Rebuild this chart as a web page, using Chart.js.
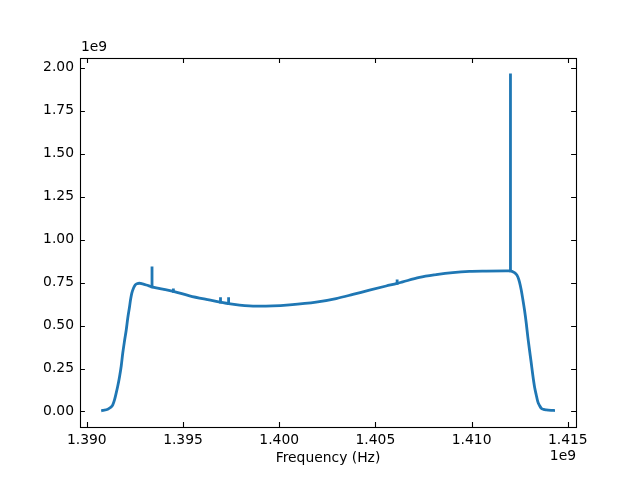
<!DOCTYPE html>
<html>
<head>
<meta charset="utf-8">
<script src="https://cdn.jsdelivr.net/npm/chart.js@4/dist/chart.umd.min.js"></script>
<style>
  html, body { margin: 0; padding: 0; background: #fff; }
  #wrap { width: 640px; height: 480px; position: relative; }
</style>
</head>
<body>
<div id="wrap"><canvas id="c" width="640" height="480"></canvas></div>
<script>
// ---- data ----
// smooth bandpass profile
const frequencyHz = [
  1.39082e9, 1.39109e9, 1.39123e9, 1.39135e9, 1.39144e9, 1.39153e9, 1.39161e9, 1.39170e9,
  1.39179e9, 1.39187e9, 1.39196e9, 1.39205e9, 1.39213e9, 1.39222e9, 1.39228e9, 1.39234e9,
  1.39243e9, 1.39252e9, 1.39261e9, 1.39274e9, 1.39290e9, 1.39309e9, 1.39343e9,
  1.39400e9, 1.39450e9, 1.39534e9, 1.39621e9, 1.39695e9, 1.39737e9, 1.39794e9, 1.39880e9,
  1.39967e9, 1.40054e9, 1.40192e9, 1.40296e9, 1.40383e9, 1.40469e9, 1.40556e9, 1.40613e9,
  1.40642e9, 1.40729e9, 1.40816e9, 1.40902e9, 1.40989e9, 1.41076e9, 1.41180e9, 1.41202e9,
  1.41214e9, 1.41228e9, 1.41240e9, 1.41249e9, 1.41258e9, 1.41266e9,
  1.41275e9, 1.41284e9, 1.41292e9, 1.41301e9, 1.41310e9, 1.41318e9, 1.41327e9, 1.41336e9,
  1.41344e9, 1.41353e9, 1.41362e9, 1.41374e9, 1.41388e9, 1.41426e9
];
const powerValues = [
  0.006e9, 0.013e9, 0.023e9, 0.038e9, 0.067e9, 0.108e9, 0.148e9, 0.201e9,
  0.265e9, 0.340e9, 0.410e9, 0.474e9, 0.544e9, 0.608e9, 0.654e9, 0.689e9,
  0.718e9, 0.736e9, 0.743e9, 0.746e9, 0.742e9, 0.736e9, 0.724e9,
  0.710e9, 0.699e9, 0.673e9, 0.652e9, 0.636e9, 0.627e9, 0.619e9, 0.613e9,
  0.614e9, 0.620e9, 0.636e9, 0.657e9, 0.681e9, 0.706e9, 0.730e9, 0.745e9,
  0.754e9, 0.780e9, 0.796e9, 0.808e9, 0.815e9, 0.817e9, 0.818e9, 0.818e9,
  0.813e9, 0.803e9, 0.784e9, 0.753e9, 0.707e9, 0.654e9,
  0.590e9, 0.515e9, 0.435e9, 0.358e9, 0.282e9, 0.212e9, 0.144e9, 0.096e9,
  0.057e9, 0.035e9, 0.019e9, 0.012e9, 0.009e9, 0.006e9
];
// narrow RFI spikes
const spikeFreqHz = [1.39339e9, 1.39450e9, 1.39695e9, 1.39737e9, 1.40613e9, 1.41202e9];
const spikeBase   = [0.725e9, 0.699e9, 0.636e9, 0.627e9, 0.745e9, 0.818e9];
const spikeTop    = [0.835e9, 0.708e9, 0.656e9, 0.656e9, 0.760e9, 1.958e9];

const xTickValues = [1.390e9, 1.395e9, 1.400e9, 1.405e9, 1.410e9, 1.415e9];
const yTickValues = [0, 0.25e9, 0.5e9, 0.75e9, 1.0e9, 1.25e9, 1.5e9, 1.75e9, 2.0e9];
const xAxisLabel = 'Frequency (Hz)';
const offsetLabel = '1e9';

const FONT = '"DejaVu Sans", sans-serif';
const FS = 13.89;
const LINE = '#1f77b4';

const spikePoints = [];
spikeFreqHz.forEach((f, i) => {
  spikePoints.push({ x: f, y: spikeBase[i] }, { x: f, y: spikeTop[i] }, { x: f, y: null });
});

const framePlugin = {
  id: 'frame',
  afterDatasetsDraw(chart) {
    const { ctx, chartArea: a, scales: { x, y } } = chart;
    ctx.save();
    ctx.strokeStyle = '#000';
    ctx.lineWidth = 1.1;
    const L = 4.9;
    ctx.beginPath();
    x.ticks.forEach(t => {
      const px = Math.round(x.getPixelForValue(t.value)) + 0.5;
      ctx.moveTo(px, a.bottom); ctx.lineTo(px, a.bottom - L);
      ctx.moveTo(px, a.top); ctx.lineTo(px, a.top + L);
    });
    y.ticks.forEach(t => {
      const py = Math.round(y.getPixelForValue(t.value)) + 0.5;
      ctx.moveTo(a.left, py); ctx.lineTo(a.left + L, py);
      ctx.moveTo(a.right, py); ctx.lineTo(a.right - L, py);
    });
    ctx.stroke();
    ctx.strokeRect(a.left + 0.5, a.top + 0.5, a.right - a.left, a.bottom - a.top);
    ctx.fillStyle = '#000';
    ctx.font = FS + 'px ' + FONT;
    ctx.textBaseline = 'middle';
    ctx.textAlign = 'left';
    ctx.fillText(offsetLabel, a.left + 1, a.top - 10.5);
    ctx.textAlign = 'right';
    ctx.fillText(offsetLabel, a.right, 456);
    ctx.textAlign = 'center';
    ctx.fillText(xAxisLabel, (a.left + a.right) / 2, 458);
    ctx.restore();
  }
};

new Chart(document.getElementById('c'), {
  type: 'line',
  data: {
    datasets: [{
      data: frequencyHz.map((f, i) => ({ x: f, y: powerValues[i] })),
      borderColor: LINE,
      borderWidth: 2.8,
      pointRadius: 0,
      cubicInterpolationMode: 'monotone',
      fill: false,
      borderJoinStyle: 'round',
      borderCapStyle: 'square'
    }, {
      data: spikePoints,
      borderColor: LINE,
      borderWidth: 2.8,
      pointRadius: 0,
      tension: 0,
      spanGaps: false,
      fill: false,
      borderCapStyle: 'square'
    }]
  },
  options: {
    responsive: false,
    animation: false,
    devicePixelRatio: 1,
    layout: { padding: { left: 0, top: 58, right: 64, bottom: 0 } },
    plugins: { legend: { display: false }, tooltip: { enabled: false } },
    scales: {
      x: {
        type: 'linear',
        min: 1.389647e9,
        max: 1.415426e9,
        grid: { display: false, drawTicks: false },
        border: { display: false },
        afterBuildTicks: s => { s.ticks = xTickValues.map(v => ({ value: v })); },
        afterFit: s => { s.height = 53; },
        ticks: {
          autoSkip: false,
          maxRotation: 0,
          padding: 5,
          color: '#000',
          font: { family: FONT, size: FS },
          callback: v => (v / 1e9).toFixed(3)
        }
      },
      y: {
        type: 'linear',
        min: -0.0902e9,
        max: 2.0564e9,
        grid: { display: false, drawTicks: false },
        border: { display: false },
        afterBuildTicks: s => { s.ticks = yTickValues.map(v => ({ value: v })); },
        afterFit: s => { s.width = 80; },
        ticks: {
          autoSkip: false,
          padding: 6,
          color: '#000',
          font: { family: FONT, size: FS },
          callback: v => (v / 1e9).toFixed(2)
        }
      }
    }
  },
  plugins: [framePlugin]
});
</script>
</body>
</html>
